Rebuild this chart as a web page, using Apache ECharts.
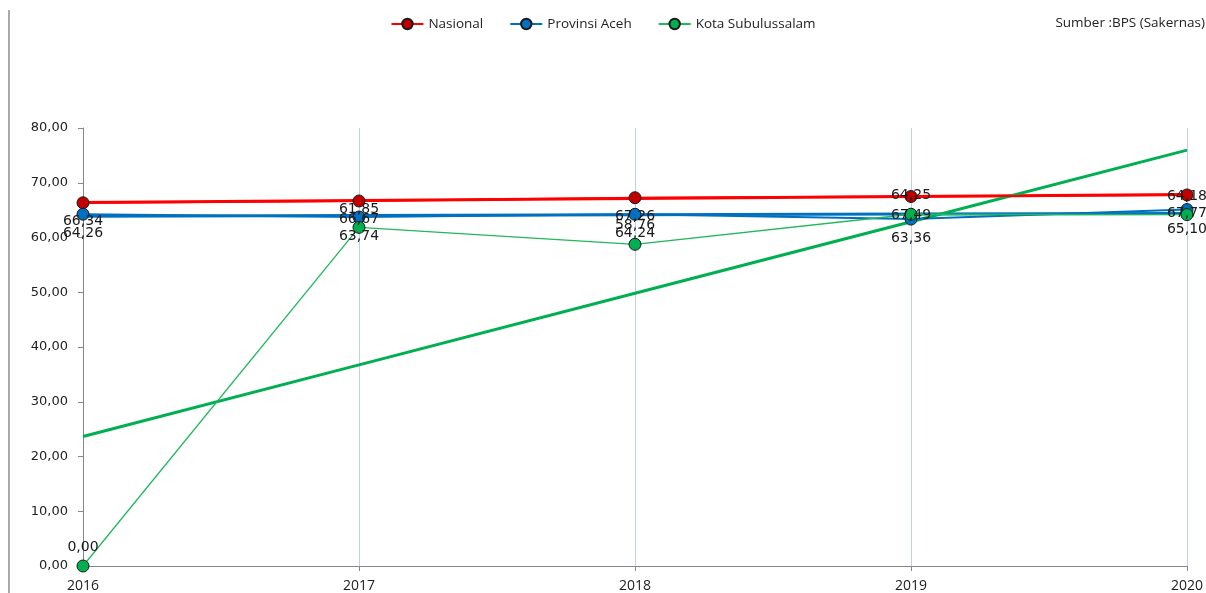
<!DOCTYPE html>
<html>
<head>
<meta charset="utf-8">
<script src="https://cdn.jsdelivr.net/npm/echarts@6/dist/echarts.min.js"></script>
<style>
  html, body { margin: 0; padding: 0; background: #fff; }
  #chart { width: 1206px; height: 593px; }
</style>
</head>
<body>
<div id="chart"></div>
<script>
// ---- data ----
const years = ['2016', '2017', '2018', '2019', '2020'];
const nasional = [66.34, 66.67, 67.26, 67.49, 67.77];
const aceh = [64.26, 63.74, 64.24, 63.36, 65.10];
const subulussalam = [0.00, 61.85, 58.76, 64.25, 64.18];
const yTicks = { min: 0, max: 80, interval: 10 };
const sourceText = 'Sumber :BPS (Sakernas)';

// linear least-squares trendline computed from a series (as Excel's trendline)
function trend(values) {
  const n = values.length;
  let sx = 0, sy = 0, sxy = 0, sxx = 0;
  values.forEach((v, i) => { const x = i + 1; sx += x; sy += v; sxy += x * v; sxx += x * x; });
  const b = (n * sxy - sx * sy) / (n * sxx - sx * sx);
  const a = (sy - b * sx) / n;
  return values.map((_, i) => a + b * (i + 1));
}

const fmt = v => v.toFixed(2).replace('.', ',');
const labelFont = { fontFamily: 'DejaVu Sans', fontSize: 14, color: '#1a1a1a' };

const chart = echarts.init(document.getElementById('chart'));
chart.setOption({
  animation: false,
  backgroundColor: '#ffffff',
  grid: { left: 83, right: 16, top: 128, bottom: 20, containLabel: false },
  legend: {
    data: ['Nasional', 'Provinsi Aceh', 'Kota Subulussalam'],
    top: 12, left: 'center',
    itemWidth: 32, itemHeight: 13, itemGap: 26,
    textStyle: { fontFamily: 'Open Sans', fontSize: 13.5, color: '#222' }
  },
  graphic: [
    { type: 'text', right: 1, top: 16, style: { text: sourceText, fontFamily: 'Open Sans', fontSize: 13.5, fill: '#222' } },
    { type: 'line', shape: { x1: 9, y1: 10, x2: 9, y2: 593 }, style: { stroke: '#8c8c8c', lineWidth: 1.5 } }
  ],
  xAxis: {
    type: 'category', data: years, boundaryGap: false,
    axisLine: { lineStyle: { color: '#868686', width: 1 } },
    axisTick: { show: true, alignWithLabel: true, length: 5, lineStyle: { color: '#868686' } },
    axisLabel: { fontFamily: 'Open Sans', fontSize: 14, color: '#222', margin: 13 },
    splitLine: { show: true, lineStyle: { color: '#bfcfee', width: 1 } }
  },
  yAxis: {
    type: 'value', min: yTicks.min, max: yTicks.max, interval: yTicks.interval,
    axisLine: { show: true, lineStyle: { color: '#868686', width: 1 } },
    axisTick: { show: true, length: 5, lineStyle: { color: '#868686' } },
    axisLabel: { fontFamily: 'DejaVu Sans', fontSize: 13, color: '#222', margin: 15, formatter: v => fmt(v) },
    splitLine: { show: false }
  },
  series: [
    { name: 'trend-n', type: 'line', data: trend(nasional), symbol: 'none', lineStyle: { color: '#ff0000', width: 3 }, z: 1, silent: true },
    { name: 'trend-a', type: 'line', data: trend(aceh), symbol: 'none', lineStyle: { color: '#0070c0', width: 3 }, z: 1, silent: true },
    { name: 'trend-k', type: 'line', data: trend(subulussalam), symbol: 'none', lineStyle: { color: '#00b050', width: 3 }, z: 1, silent: true },
    {
      name: 'Nasional', type: 'line', data: nasional,
      symbol: 'circle', symbolSize: 12,
      lineStyle: { color: '#ff0000', width: 2 },
      itemStyle: { color: '#c00000', borderColor: '#1a1a1a', borderWidth: 1 },
      label: { show: true, position: 'bottom', distance: 5, formatter: p => fmt(p.value), ...labelFont },
      z: 3
    },
    {
      name: 'Provinsi Aceh', type: 'line', data: aceh,
      symbol: 'circle', symbolSize: 12,
      lineStyle: { color: '#0070c0', width: 2 },
      itemStyle: { color: '#0070c0', borderColor: '#1a1a1a', borderWidth: 1 },
      label: { show: true, position: 'bottom', distance: 6, formatter: p => fmt(p.value), ...labelFont },
      z: 3
    },
    {
      name: 'Kota Subulussalam', type: 'line', data: subulussalam,
      symbol: 'circle', symbolSize: 12,
      lineStyle: { color: '#1fb85a', width: 1.3 },
      itemStyle: { color: '#00b050', borderColor: '#1a1a1a', borderWidth: 1 },
      label: { show: true, position: 'top', distance: 5, formatter: p => fmt(p.value), ...labelFont },
      z: 3
    }
  ]
});
</script>
</body>
</html>
